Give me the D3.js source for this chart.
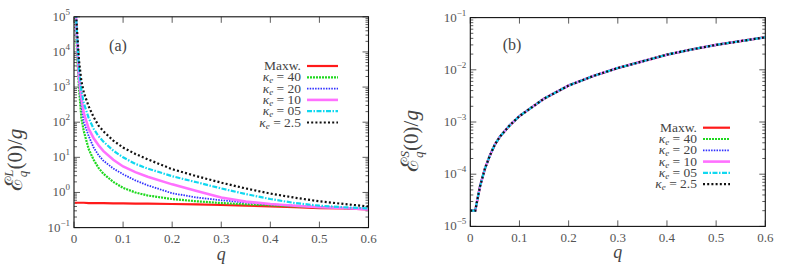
<!DOCTYPE html>
<html><head><meta charset="utf-8">
<script src="https://cdn.jsdelivr.net/npm/d3@7"></script>
<style>
html,body{margin:0;padding:0;background:#fff;}
svg{display:block;}
</style></head>
<body>
<svg id="chart" width="789" height="266"></svg>
<script>
// ---------- DATA ----------
const seriesNames = ["Maxw.", "40", "20", "10", "05", "2.5"];
const xTicks = [0, 0.1, 0.2, 0.3, 0.4, 0.5, 0.6];
const leftYTicks = [-1, 0, 1, 2, 3, 4, 5];   // exponents of 10
const rightYTicks = [-5, -4, -3, -2, -1];

// Panel (a): longitudinal
const qL = [0.002, 0.005, 0.01, 0.015, 0.02, 0.03, 0.04, 0.05, 0.06, 0.08, 0.1, 0.125, 0.15, 0.2, 0.25, 0.3, 0.35, 0.4, 0.45, 0.5, 0.55, 0.6];
const maxwL = [0.51, 0.51, 0.51, 0.51, 0.51, 0.5, 0.5, 0.5, 0.5, 0.49, 0.49, 0.48, 0.48, 0.47, 0.46, 0.44, 0.42, 0.40, 0.38, 0.36, 0.35, 0.33];
const k40L  = [1e6, 2e4, 1000, 130, 55, 17, 8.5, 5, 3.4, 2.0, 1.35, 1.0, 0.82, 0.65, 0.56, 0.50, 0.46, 0.43, 0.40, 0.38, 0.36, 0.34];
const k20L  = [1e6, 4e4, 1500, 300, 100, 40, 19, 11.5, 8, 4.8, 3.3, 2.2, 1.6, 0.95, 0.72, 0.60, 0.52, 0.46, 0.42, 0.39, 0.36, 0.34];
const k10L  = [1e6, 5e4, 2000, 500, 180, 65, 35, 22, 15, 8.5, 5.5, 3.8, 2.8, 1.7, 1.1, 0.72, 0.55, 0.47, 0.42, 0.38, 0.36, 0.33];
const k05L  = [1e6, 6e4, 3500, 800, 350, 130, 65, 40, 28, 15.5, 10, 6.5, 4.8, 2.9, 1.95, 1.3, 0.9, 0.65, 0.5, 0.42, 0.38, 0.35];
const k25L  = [1e6, 8e4, 6000, 1500, 700, 280, 140, 80, 55, 30, 19, 12.5, 8.8, 4.6, 2.9, 1.9, 1.3, 0.93, 0.71, 0.56, 0.47, 0.40];

// Panel (b): transverse (all curves coincide)
const qS = [0, 0.01, 0.02, 0.03, 0.04, 0.05, 0.06, 0.08, 0.1, 0.15, 0.2, 0.25, 0.3, 0.35, 0.4, 0.45, 0.5, 0.55, 0.6];
const maxwS = [2e-5, 2e-5, 6e-5, 1.3e-4, 2.3e-4, 3.7e-4, 5.2e-4, 8.6e-4, 1.3e-3, 2.8e-3, 5e-3, 7.6e-3, 1.08e-2, 1.45e-2, 1.95e-2, 2.45e-2, 3.0e-2, 3.55e-2, 4.2e-2];
const k40S = [2e-5, 2e-5, 6e-5, 1.3e-4, 2.3e-4, 3.7e-4, 5.2e-4, 8.6e-4, 1.3e-3, 2.8e-3, 5e-3, 7.6e-3, 1.08e-2, 1.45e-2, 1.95e-2, 2.45e-2, 3.0e-2, 3.55e-2, 4.2e-2];
const k20S = [2e-5, 2e-5, 6e-5, 1.3e-4, 2.3e-4, 3.7e-4, 5.2e-4, 8.6e-4, 1.3e-3, 2.8e-3, 5e-3, 7.6e-3, 1.08e-2, 1.45e-2, 1.95e-2, 2.45e-2, 3.0e-2, 3.55e-2, 4.2e-2];
const k10S = [2e-5, 2e-5, 6e-5, 1.3e-4, 2.3e-4, 3.7e-4, 5.2e-4, 8.6e-4, 1.3e-3, 2.8e-3, 5e-3, 7.6e-3, 1.08e-2, 1.45e-2, 1.95e-2, 2.45e-2, 3.0e-2, 3.55e-2, 4.2e-2];
const k05S = [2e-5, 2e-5, 6e-5, 1.3e-4, 2.3e-4, 3.7e-4, 5.2e-4, 8.6e-4, 1.3e-3, 2.8e-3, 5e-3, 7.6e-3, 1.08e-2, 1.45e-2, 1.95e-2, 2.45e-2, 3.0e-2, 3.55e-2, 4.2e-2];
const k25S = [2e-5, 2e-5, 6e-5, 1.3e-4, 2.3e-4, 3.7e-4, 5.2e-4, 8.6e-4, 1.3e-3, 2.8e-3, 5e-3, 7.6e-3, 1.08e-2, 1.45e-2, 1.95e-2, 2.45e-2, 3.0e-2, 3.55e-2, 4.2e-2];

// ---------- STYLES ----------
const styles = [
  {color:"#ff1a1a", width:2.2, dash:null},
  {color:"#1ed81e", width:2.2, dash:"2,1"},
  {color:"#3030ff", width:1.8, dash:"1.5,1.2"},
  {color:"#ff70ff", width:2.6, dash:null},
  {color:"#10d8f0", width:2.2, dash:"5,1.5,1.5,1.5"},
  {color:"#111111", width:2.2, dash:"2,2.2"}
];
const FONT = "Liberation Serif";

const svg = d3.select("#chart");

function txt(sel){ return sel.append("text").attr("font-family", FONT); }

function panel(opt){
  const x = d3.scaleLinear().domain([0,0.6]).range([opt.x0, opt.x1]);
  const y = d3.scaleLog().domain(opt.yDomain).range([opt.y1, opt.y0]);
  const g = svg.append("g");
  const clipId = "clip" + opt.id;
  svg.append("clipPath").attr("id", clipId).append("rect")
    .attr("x", opt.x0).attr("y", opt.y0).attr("width", opt.x1-opt.x0).attr("height", opt.y1-opt.y0);

  // minor log ticks
  const minor = [];
  const e0 = Math.round(Math.log10(opt.yDomain[0])), e1 = Math.round(Math.log10(opt.yDomain[1]));
  for (let e = e0; e < e1; e++) for (let m = 2; m <= 9; m++) minor.push(m*Math.pow(10,e));
  const tk = g.append("g").attr("stroke","#333").attr("stroke-width",0.8);
  minor.forEach(v=>{
    tk.append("line").attr("x1",opt.x0).attr("x2",opt.x0+3).attr("y1",y(v)).attr("y2",y(v));
    tk.append("line").attr("x1",opt.x1).attr("x2",opt.x1-3).attr("y1",y(v)).attr("y2",y(v));
  });
  opt.yTicks.forEach(e=>{
    const v = Math.pow(10,e);
    tk.append("line").attr("x1",opt.x0).attr("x2",opt.x0+6).attr("y1",y(v)).attr("y2",y(v));
    tk.append("line").attr("x1",opt.x1).attr("x2",opt.x1-6).attr("y1",y(v)).attr("y2",y(v));
  });
  xTicks.forEach(t=>{
    tk.append("line").attr("x1",x(t)).attr("x2",x(t)).attr("y1",opt.y1).attr("y2",opt.y1-6);
    tk.append("line").attr("x1",x(t)).attr("x2",x(t)).attr("y1",opt.y0).attr("y2",opt.y0+6);
  });

  // curves
  const line = d3.line().x(d=>x(d[0])).y(d=>y(d[1]));
  const cg = g.append("g").attr("clip-path","url(#"+clipId+")");
  opt.series.forEach((s,i)=>{
    const st = styles[i];
    const pts = opt.q.map((q,j)=>[q, s[j]]);
    cg.append("path").datum(pts).attr("d",line).attr("fill","none")
      .attr("stroke",st.color).attr("stroke-width",st.width)
      .attr("stroke-dasharray",st.dash);
  });

  // frame
  g.append("rect").attr("x",opt.x0).attr("y",opt.y0).attr("width",opt.x1-opt.x0).attr("height",opt.y1-opt.y0)
    .attr("fill","none").attr("stroke","#111").attr("stroke-width",1.1);

  // x tick labels
  xTicks.forEach(t=>{
    txt(g).attr("x",x(t)).attr("y",opt.y1+15.5).attr("text-anchor","middle")
      .attr("font-size",13).attr("fill","#555").text(t===0?"0":d3.format(".1f")(t));
  });
  // y tick labels
  opt.yTicks.forEach(e=>{
    const v = Math.pow(10,e);
    const tx = txt(g).attr("x",opt.x0-4).attr("y",y(v)+4).attr("text-anchor","end")
      .attr("font-size",13).attr("fill","#555");
    tx.append("tspan").text("10");
    tx.append("tspan").attr("dy",-6).attr("font-size",9).text(e<0 ? "\u2212"+Math.abs(e) : String(e));
  });

  // x axis label
  txt(g).attr("x",(opt.x0+opt.x1)/2).attr("y",opt.y1+32).attr("text-anchor","middle")
    .attr("font-size",18).attr("font-style","italic").attr("fill","#444").text("q");

  // y axis label
  const yl = txt(g).attr("transform",`translate(${opt.ylx},${opt.yly}) rotate(-90)`)
    .attr("text-anchor","middle").attr("font-size",21).attr("fill","#444");
  yl.append("tspan").attr("font-size",24).text("\u2130");
  yl.append("tspan").attr("font-size",13).attr("font-style","italic").attr("dy",5).text("q");
  yl.append("tspan").attr("font-size",13).attr("font-style","italic").attr("dx",-6).attr("dy",-14).text(opt.sup);
  yl.append("tspan").attr("dy",9).text("(0)/");
  yl.append("tspan").attr("font-style","italic").text("g");

  // panel tag
  txt(g).attr("x",opt.tagX).attr("y",opt.tagY).attr("text-anchor","middle")
    .attr("font-size",16).attr("fill","#444").text(opt.tag);

  // legend
  seriesNames.forEach((n,i)=>{
    const ly = opt.legY + i*opt.legDy;
    const st = styles[i];
    const t = txt(g).attr("x",opt.legX).attr("y",ly+4).attr("text-anchor","end")
      .attr("font-size",13.5).attr("fill","#444");
    if (i===0) t.text(n);
    else {
      t.append("tspan").attr("font-style","italic").text("\u03ba");
      t.append("tspan").attr("font-style","italic").attr("font-size",9).attr("dy",2).text("e");
      t.append("tspan").attr("dy",-2).text(" = " + n);
    }
    g.append("line").attr("x1",opt.legX+6).attr("x2",opt.legX+opt.legW).attr("y1",ly).attr("y2",ly)
      .attr("stroke",st.color).attr("stroke-width",st.width).attr("stroke-dasharray",st.dash);
  });
}

panel({id:"a", x0:74, x1:368.5, y0:16.8, y1:227.6, yDomain:[0.1,1e5], yTicks:leftYTicks,
  q:qL, series:[maxwL,k40L,k20L,k10L,k05L,k25L], sup:"L",
  ylx:22, yly:160, tag:"(a)", tagX:118, tagY:51,
  legX:301, legY:66, legDy:11.3, legW:37});

panel({id:"b", x0:470.3, x1:765.3, y0:17.6, y1:226.4, yDomain:[1e-5,0.1], yTicks:rightYTicks,
  q:qS, series:[maxwS,k40S,k20S,k10S,k05S,k25S], sup:"S",
  ylx:418, yly:141, tag:"(b)", tagX:512, tagY:50,
  legX:697, legY:127.7, legDy:11.3, legW:33});
</script>
</body></html>
